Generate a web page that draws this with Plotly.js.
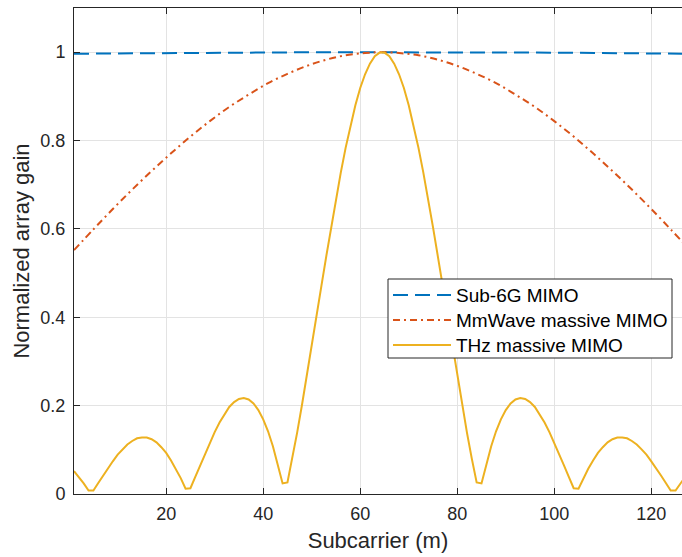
<!DOCTYPE html>
<html>
<head>
<meta charset="utf-8">
<script src="https://cdn.plot.ly/plotly-3.0.1.min.js"></script>
<style>html,body{margin:0;padding:0;background:#fff;}#chart{width:682px;height:557px;}</style>
</head>
<body>
<div id="chart"></div>
<script>
// Subcarrier indices for THz curve (m = 1..128)
const subcarrierTHz = [1,2,3,4,5,6,7,8,9,10,11,12,13,14,15,16,17,18,19,20,21,22,23,24,25,26,27,28,29,30,31,32,33,34,35,36,37,38,39,40,41,42,43,44,45,46,47,48,49,50,51,52,53,54,55,56,57,58,59,60,61,62,63,64,65,66,67,68,69,70,71,72,73,74,75,76,77,78,79,80,81,82,83,84,85,86,87,88,89,90,91,92,93,94,95,96,97,98,99,100,101,102,103,104,105,106,107,108,109,110,111,112,113,114,115,116,117,118,119,120,121,122,123,124,125,126,127,128];
const gainTHz = [
  0.052,0.039,0.024,0.008,0.008,0.025,0.042,0.059,0.074,0.089,
  0.101,0.112,0.120,0.126,0.128,0.128,0.124,0.117,0.106,0.093,
  0.076,0.057,0.036,0.012,0.013,0.039,0.065,0.091,0.116,0.140,
  0.162,0.181,0.197,0.208,0.215,0.217,0.214,0.205,0.190,0.169,
  0.142,0.108,0.069,0.024,0.026,0.080,0.139,0.202,0.267,0.334,
  0.402,0.471,0.538,0.604,0.668,0.728,0.784,0.835,0.880,0.919,
  0.950,0.974,0.991,0.999,
  0.999,0.991,0.974,0.950,0.919,0.880,0.835,0.784,0.728,0.668,
  0.604,0.538,0.471,0.402,0.334,0.267,0.202,0.139,0.080,0.026,
  0.024,0.069,0.108,0.142,0.169,0.190,0.205,0.214,0.217,0.215,
  0.208,0.197,0.181,0.162,0.140,0.116,0.091,0.065,0.039,0.013,
  0.012,0.036,0.057,0.076,0.093,0.106,0.117,0.124,0.128,0.128,
  0.126,0.120,0.112,0.101,0.089,0.074,0.059,0.042,0.025,0.008,
  0.008,0.024,0.039,0.052
];
// Coarser subcarrier grid for the two smooth curves
const subcarrierSmooth = [1,5,9,13,17,21,25,29,33,37,41,45,49,53,57,61,64.5,68,72,76,80,84,88,92,96,100,104,108,112,116,120,124,128];
const gainMmWave = [0.552,0.599,0.645,0.689,0.731,0.771,0.809,0.844,0.876,0.904,0.930,0.951,0.969,0.983,0.993,0.998,1.000,
                    0.998,0.993,0.983,0.969,0.951,0.930,0.904,0.876,0.844,0.809,0.771,0.731,0.689,0.645,0.599,0.552];
const gainSub6G = [0.9965,0.9969,0.9973,0.9977,0.9980,0.9984,0.9987,0.9989,0.9991,0.9993,0.9995,0.9997,0.9998,0.9999,0.99995,0.99999,1.0,
                   0.99999,0.99995,0.9999,0.9998,0.9997,0.9995,0.9993,0.9991,0.9989,0.9987,0.9984,0.9980,0.9977,0.9973,0.9969,0.9965];
const seriesNames = ['Sub-6G MIMO','MmWave massive MIMO','THz massive MIMO'];
const xTicks = [20,40,60,80,100,120];
const yTicks = [0,0.2,0.4,0.6,0.8,1];
const yTickText = ['0','0.2','0.4','0.6','0.8','1'];

const FONT = '"Liberation Sans", Arial, Helvetica, sans-serif';
const AX = '#262626';
const colors = ['#0072BD', '#D95319', '#EDB120'];
const dashes = ['15px,7px', '7px,4px,2px,4px', 'solid'];

const traces = [0, 1, 2].map(i => ({
  x: i === 2 ? subcarrierTHz : subcarrierSmooth,
  y: [gainSub6G, gainMmWave, gainTHz][i],
  name: seriesNames[i], mode: 'lines',
  line: Object.assign({color: colors[i], width: 2, dash: dashes[i]}, i === 1 ? {shape: 'spline'} : {})
}));

// Plot area geometry (pixels) used to position the legend box in paper units
const M = {l: 74, r: 0, t: 8, b: 63};
const PW = 682 - M.l - M.r, PH = 557 - M.t - M.b;
const px = v => (v - M.l) / PW;
const py = v => (557 - M.b - v) / PH;

const shapes = [
  {type: 'rect', xref: 'paper', yref: 'paper', x0: px(388), x1: px(672), y0: py(358), y1: py(279),
   line: {color: AX, width: 1}, fillcolor: '#ffffff', layer: 'above'}
];
const annotations = [];
const rowY = [295, 320, 345];
for (let i = 0; i < 3; i++) {
  shapes.push({type: 'line', xref: 'paper', yref: 'paper', x0: px(393), x1: px(451), y0: py(rowY[i]), y1: py(rowY[i]),
    line: {color: colors[i], width: 2, dash: dashes[i]}, layer: 'above'});
  annotations.push({xref: 'paper', yref: 'paper', x: px(454), y: py(rowY[i]), xanchor: 'left', yanchor: 'middle',
    text: seriesNames[i], showarrow: false, font: {family: FONT, size: 19, color: '#000000'}});
}

const layout = {
  width: 682, height: 557,
  margin: {l: M.l, r: M.r, t: M.t, b: M.b, pad: 0},
  paper_bgcolor: '#ffffff', plot_bgcolor: '#ffffff',
  font: {family: FONT, color: AX, size: 18},
  showlegend: false,
  shapes: shapes,
  annotations: annotations,
  xaxis: {
    range: [1, 126.33], tickvals: xTicks, ticktext: xTicks.map(String),
    ticks: 'inside', ticklen: 6, tickwidth: 1, tickcolor: AX,
    showline: true, linecolor: AX, linewidth: 1, mirror: 'ticks',
    showgrid: true, gridcolor: '#e3e3e3', gridwidth: 1, zeroline: false,
    tickfont: {family: FONT, size: 18, color: AX}, ticklabelstandoff: 3,
    title: {text: 'Subcarrier (m)', font: {family: FONT, size: 22, color: AX}, standoff: 10}
  },
  yaxis: {
    range: [0, 1.1], tickvals: yTicks, ticktext: yTickText,
    ticks: 'inside', ticklen: 6, tickwidth: 1, tickcolor: AX,
    showline: true, linecolor: AX, linewidth: 1, mirror: false,
    showgrid: true, gridcolor: '#e3e3e3', gridwidth: 1, zeroline: false,
    tickfont: {family: FONT, size: 18, color: AX}, ticklabelstandoff: 4,
    title: {text: 'Normalized array gain', font: {family: FONT, size: 22, color: AX}, standoff: 4}
  }
};

Plotly.newPlot('chart', traces, layout, {displayModeBar: false, staticPlot: true});
</script>
</body>
</html>
